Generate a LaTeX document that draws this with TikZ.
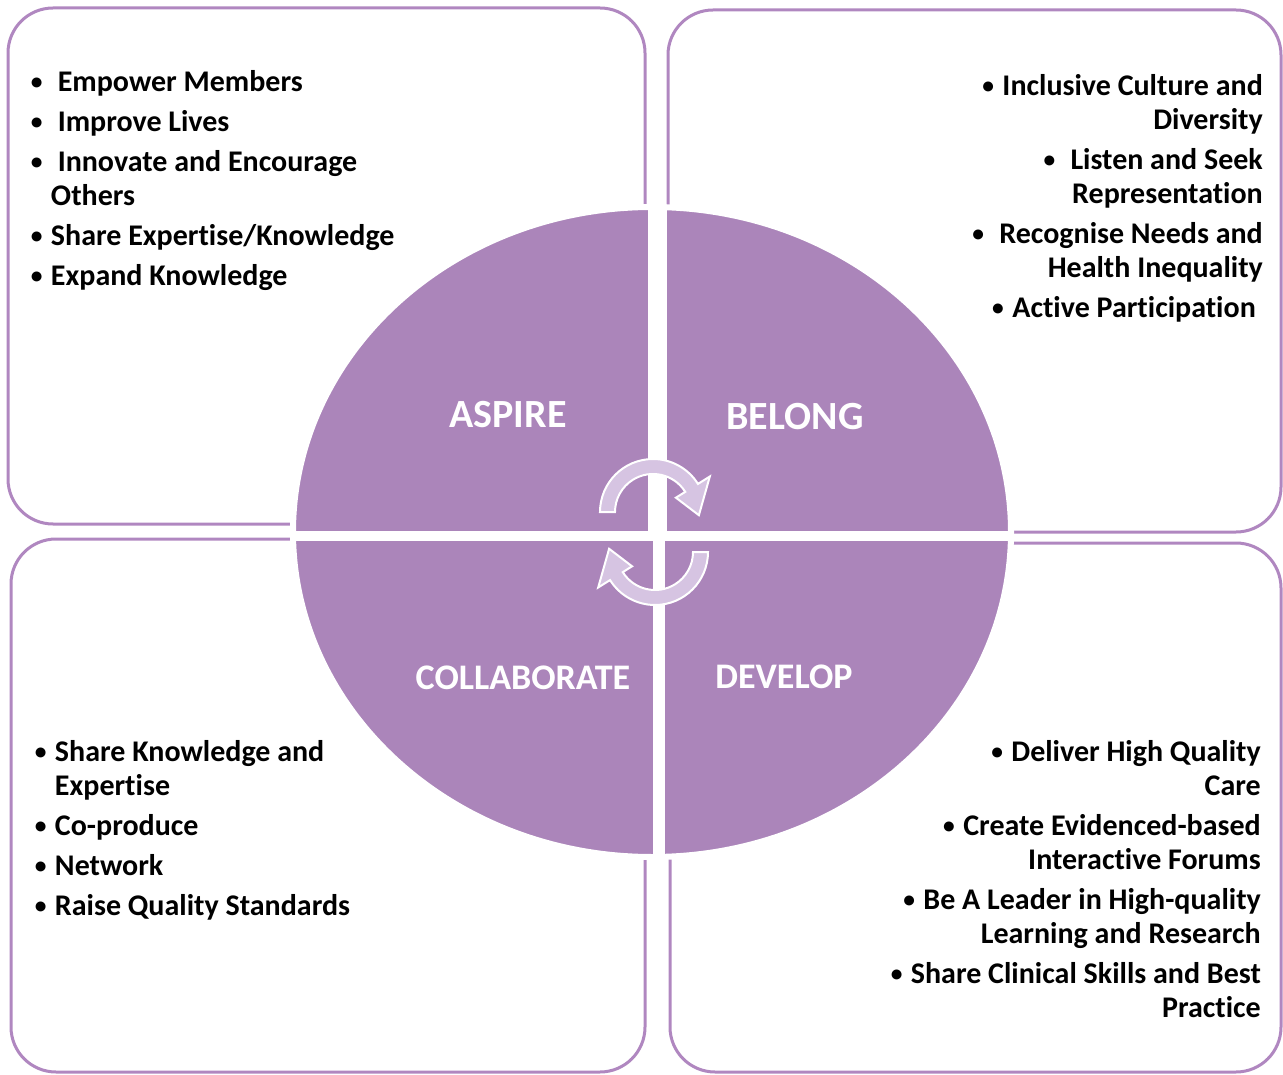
\documentclass[tikz,border=0pt]{standalone}
\usepackage{fontspec}
\usepackage{graphicx}
\setmainfont{Carlito}[RawFeature={-liga}]
\usetikzlibrary{positioning}
\definecolor{plum}{RGB}{171,133,186}
\definecolor{plumline}{RGB}{176,135,192}
\definecolor{lilac}{RGB}{214,196,226}
\newcommand{\blt}{\makebox[0.5em]{\raisebox{0.07em}{\scalebox{0.78}{•}}}}
\newcommand{\turnarrow}{(180:53pt) arc[start angle=180,end angle=32,radius=53pt] -- (32:67pt) -- (-4:46pt) -- (32:27pt) -- (32:38pt) arc[start angle=32,end angle=180,radius=38pt] -- cycle}
\newcommand{\disc}{(652,532) ellipse (359pt and 325pt)}

\begin{document}
\begin{tikzpicture}[x=1pt,y=-1pt,
    panel/.style={draw=plumline,line width=3pt,rounded corners=45pt},
    quarter/.style={white,inner sep=0pt,font=\fontsize{40}{44}\selectfont\bfseries},
    points/.style={inner sep=0pt,font=\fontsize{30}{34}\selectfont\bfseries}]
  \useasboundingbox (0,0) rectangle (1283,1075);
  % panels behind the disc
  \draw[panel] (8,8) rectangle (645,524);
  \draw[panel] (668,10) rectangle (1281,532);
  \draw[panel] (11,539) rectangle (645,1072);
  \draw[panel] (670,543) rectangle (1281,1072);
  % disc, cut in four by a white cross
  \fill[plum,draw=white,line width=6pt] \disc;
  \begin{scope}
    \clip \disc;
    \fill[white] (648,190) rectangle (667,536);
    \fill[white] (653,536) rectangle (665,870);
    \fill[white] (280,531) rectangle (1030,541);
  \end{scope}
  % turning arrows in the middle
  \begin{scope}[shift={(653,512)}]
    \fill[lilac,draw=white,line width=2pt] \turnarrow;
  \end{scope}
  \begin{scope}[shift={(655,552)},rotate=180]
    \fill[lilac,draw=white,line width=2pt] \turnarrow;
  \end{scope}
  \node[quarter] (aspire) at (508,415) {ASPIRE};
  \node[quarter] (belong) at (795,417) {BELONG};
  \node[quarter,font=\fontsize{36}{40}\selectfont\bfseries] (collab) at (523,678) {COLLABORATE};
  \node[quarter,font=\fontsize{36}{40}\selectfont\bfseries] (develop) at (784,677) {DEVELOP};
  % bullet lists
  \node[points,anchor=north west,align=left] (aspireList) at (29,70)
    {\blt\ \ Empower Members\\[6pt]
     \blt\ \ Improve Lives\\[6pt]
     \blt\ \ Innovate and Encourage\\
     \phantom{\blt\ }Others\\[6pt]
     \blt\ Share Expertise/Knowledge\\[6pt]
     \blt\ Expand Knowledge};
  \node[points,anchor=north east,align=right] (belongList) at (1263,74)
    {\blt\ Inclusive Culture and\\
     Diversity\\[6pt]
     \blt\ \ Listen and Seek\\
     Representation\\[6pt]
     \blt\ \ Recognise Needs and\\
     Health Inequality\\[6pt]
     \blt\ Active Participation\hspace*{7pt}};
  \node[points,anchor=north west,align=left] (collabList) at (33,740)
    {\blt\ Share Knowledge and\\
     \phantom{\blt\ }Expertise\\[6pt]
     \blt\ Co-produce\\[6pt]
     \blt\ Network\\[6pt]
     \blt\ Raise Quality Standards};
  \node[points,anchor=north east,align=right] (developList) at (1261,740)
    {\blt\ Deliver High Quality\\
     Care\\[6pt]
     \blt\ Create Evidenced-based\\
     Interactive Forums\\[6pt]
     \blt\ Be A Leader in High-quality\\
     Learning and Research\\[6pt]
     \blt\ Share Clinical Skills and Best\\
     Practice};
\end{tikzpicture}
\end{document}
